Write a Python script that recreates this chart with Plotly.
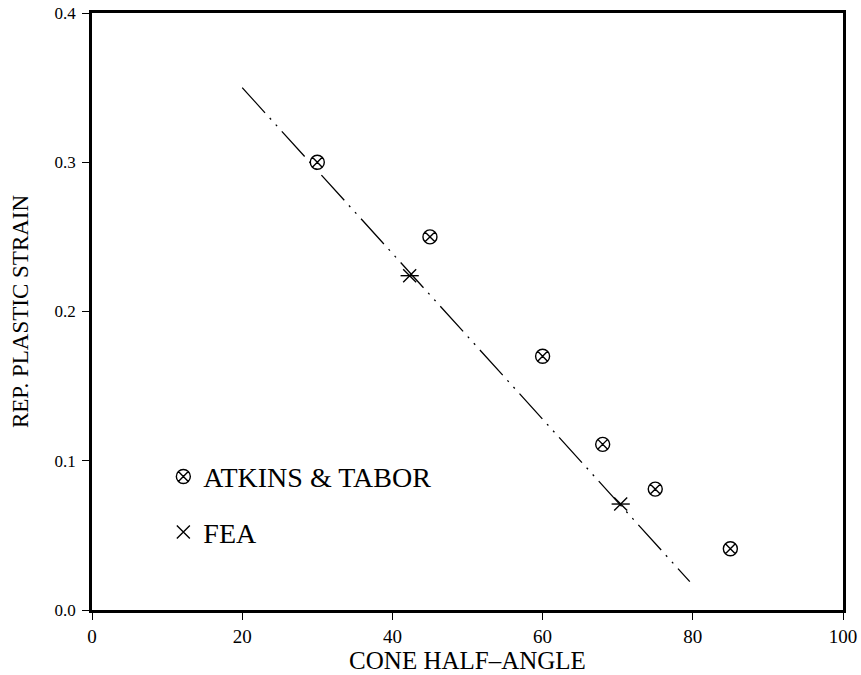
import plotly.graph_objects as go

# Representative plastic strain vs. cone half-angle
atkins_angle = [30, 45, 60, 68, 75, 85]
atkins_strain = [0.300, 0.250, 0.170, 0.111, 0.081, 0.041]

fea_angle = [42.3, 70.4]
fea_strain = [0.224, 0.071]

# fitted trend line through the FEA results
fit_angle = [20, 79.6]
fit_strain = [0.350, 0.019]

x_ticks = [0, 20, 40, 60, 80, 100]
y_ticks = [0.0, 0.1, 0.2, 0.3, 0.4]

FONT = "Liberation Serif"

fig = go.Figure()

fig.add_trace(go.Scatter(
    x=fit_angle, y=fit_strain, mode="lines", showlegend=False,
    line=dict(color="black", width=1.3, dash="34px,7px,2px,7px,2px,7px"),
))

fig.add_trace(go.Scatter(
    x=atkins_angle, y=atkins_strain, mode="markers", name="ATKINS & TABOR",
    legendgroup="a",
    marker=dict(symbol="circle-x-open", size=14, color="black",
                line=dict(width=1.4, color="black")),
))

fig.add_trace(go.Scatter(
    x=fea_angle, y=fea_strain, mode="markers", name="FEA",
    legendgroup="b",
    marker=dict(symbol="x-thin-open", size=13, color="black",
                line=dict(width=1.4, color="black")),
))
# horizontal bar of the FEA star symbol
fig.add_trace(go.Scatter(
    x=fea_angle, y=fea_strain, mode="markers", showlegend=False,
    legendgroup="b",
    marker=dict(symbol="line-ew-open", size=13, color="black",
                line=dict(width=1.4, color="black")),
))

fig.update_layout(
    width=861, height=675,
    margin=dict(l=92, r=18, t=13, b=65),
    plot_bgcolor="white", paper_bgcolor="white",
    font=dict(family=FONT, color="black"),
    showlegend=True,
    legend=dict(
        x=0.095, y=0.265, xanchor="left", yanchor="top",
        bgcolor="rgba(0,0,0,0)", borderwidth=0,
        font=dict(family=FONT, size=28, color="black"),
        traceorder="grouped", tracegroupgap=16,
    ),
)

fig.update_xaxes(
    range=[0, 100], tickvals=x_ticks, ticktext=[str(v) for v in x_ticks],
    showgrid=False, zeroline=False, automargin=False,
    showline=True, linecolor="black", linewidth=2.8, mirror=True,
    ticks="outside", ticklen=7, tickwidth=1.2, tickcolor="black",
    tickfont=dict(family=FONT, size=19),
    title=dict(text="CONE HALF\u2013ANGLE", font=dict(family=FONT, size=25), standoff=6),
)
fig.update_yaxes(
    range=[0, 0.4], tickvals=y_ticks, ticktext=[f"{v:.1f}" for v in y_ticks],
    showgrid=False, zeroline=False, automargin=False,
    showline=True, linecolor="black", linewidth=2.8, mirror=True,
    ticks="outside", ticklen=7, tickwidth=1.2, tickcolor="black",
    ticklabelstandoff=3,
    tickfont=dict(family=FONT, size=17),
    title=dict(text="REP. PLASTIC STRAIN", font=dict(family=FONT, size=23), standoff=20),
)

fig.write_html("out.html")
